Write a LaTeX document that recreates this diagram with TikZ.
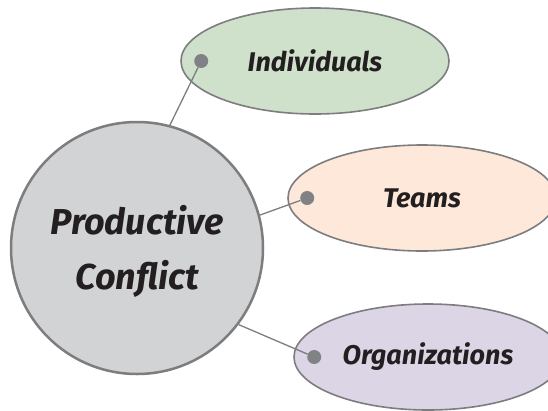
\documentclass[tikz,border=0pt]{standalone}
\usepackage{fontspec}
\setmainfont{Fira Sans}
\usetikzlibrary{shapes.geometric}
\definecolor{edgegray}{HTML}{7D7D7F}
\definecolor{hubgray}{HTML}{D1D3D4}
\definecolor{knobgray}{HTML}{808285}
\definecolor{indgreen}{HTML}{CFE0CB}
\definecolor{teampeach}{HTML}{FDE8D9}
\definecolor{orglilac}{HTML}{DCD5E6}
\definecolor{inkblack}{HTML}{231F20}

\begin{document}
\begin{tikzpicture}[x=1pt,y=-1pt,
  hub/.style={circle,draw=edgegray,line width=2.5pt,fill=hubgray,minimum size=252pt,inner sep=0pt,
    text=inkblack,align=center,text height=90pt,font=\fontsize{36}{55}\selectfont\bfseries\itshape},
  leaf/.style={ellipse,draw=edgegray,line width=1.6pt,minimum width=268pt,minimum height=106pt,inner sep=0pt,
    text=inkblack,font=\fontsize{27}{30}\selectfont\bfseries\itshape},
  knob/.style={circle,fill=knobgray,minimum size=14pt,inner sep=0pt},
  link/.style={draw=edgegray,line width=1.3pt}]
\useasboundingbox (0,0) rectangle (548,410);
\clip (0,0) rectangle (548,410);
\node[hub] (pc) at (137,248) {Productive\\Conflict};
\node[leaf,fill=indgreen] (ind) at (315,61) {Individuals};
\node[leaf,fill=teampeach] (team) at (422,198) {Teams};
\node[leaf,fill=orglilac] (org) at (428,357) {Organizations};
\node[knob] (kind) at ([xshift=21pt]ind.west) {};
\node[knob] (kteam) at ([xshift=20pt]team.west) {};
\node[knob] (korg) at ([xshift=21pt]org.west) {};
\draw[link] (pc.75) -- (kind);
\draw[link] (pc.15) -- (kteam);
\draw[link] (pc.-37) -- (korg);
\end{tikzpicture}
\end{document}
